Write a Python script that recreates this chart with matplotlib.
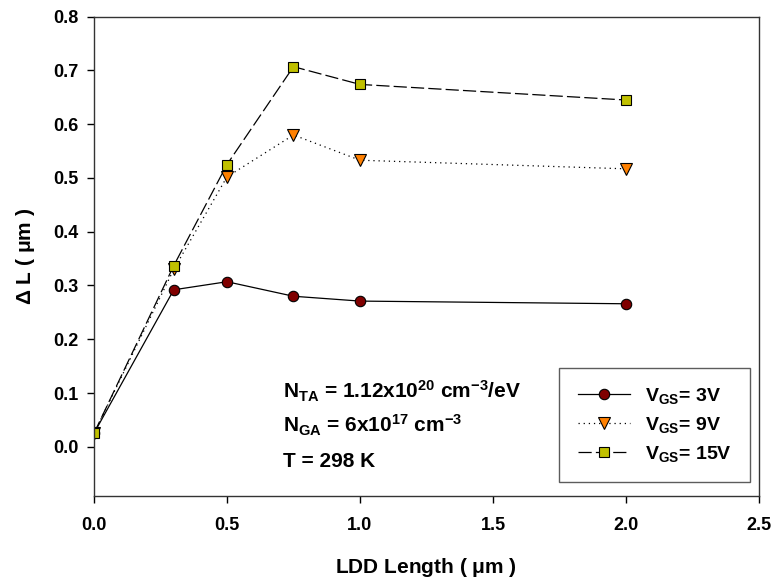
import matplotlib
matplotlib.use("Agg")
import matplotlib.pyplot as plt

plt.rcParams["font.family"] = ["Liberation Sans", "DejaVu Sans"]
plt.rcParams["font.weight"] = "bold"
plt.rcParams["mathtext.fontset"] = "custom"
plt.rcParams["mathtext.rm"] = "Liberation Sans:bold"
plt.rcParams["mathtext.it"] = "Liberation Sans:bold"
plt.rcParams["mathtext.bf"] = "Liberation Sans:bold"
plt.rcParams["lines.scale_dashes"] = False

# LDD length (um)
ldd = [0.0, 0.3, 0.5, 0.75, 1.0, 2.0]

# Delta L (um) for each gate voltage
dl_3v = [0.025, 0.292, 0.307, 0.280, 0.271, 0.266]
dl_9v = [0.025, 0.330, 0.502, 0.580, 0.533, 0.517]
dl_15v = [0.025, 0.337, 0.525, 0.707, 0.674, 0.645]

labels = [r"V$_{GS}$= 3V", r"V$_{GS}$= 9V", r"V$_{GS}$= 15V"]

x_ticks = [0.0, 0.5, 1.0, 1.5, 2.0, 2.5]
y_ticks = [0.0, 0.1, 0.2, 0.3, 0.4, 0.5, 0.6, 0.7, 0.8]

notes = [r"N$_{TA}$ = 1.12x10$^{20}$ cm$^{-3}$/eV",
         r"N$_{GA}$ = 6x10$^{17}$ cm$^{-3}$",
         "T = 298 K"]

fig = plt.figure(figsize=(7.74, 5.81), dpi=100)
ax = fig.add_axes([0.1214, 0.1468, 0.8592, 0.8245])

ax.plot(ldd, dl_3v, color="black", lw=0.9, marker="o", ms=7.5,
        mfc="#800000", mec="black", mew=0.8, label=labels[0])
ax.plot(ldd, dl_9v, color="black", lw=0.9, dashes=(0.9, 2.8), marker="v", ms=9,
        mfc="#FF8000", mec="black", mew=0.8, label=labels[1])
ax.plot(ldd, dl_15v, color="black", lw=0.9, dashes=(9.5, 3), marker="s", ms=7,
        mfc="#C0C000", mec="black", mew=0.8, label=labels[2])

ax.set_xlim(0.0, 2.5)
ax.set_ylim(-0.091, 0.8)
ax.set_xticks(x_ticks)
ax.set_xticklabels([f"{v:.1f}" for v in x_ticks])
ax.set_yticks(y_ticks)
ax.set_yticklabels([f"{v:.1f}" for v in y_ticks])
ax.tick_params(direction="out", length=5, width=1, labelsize=13, pad=6)
ax.tick_params(axis="x", pad=10)
for sp in ax.spines.values():
    sp.set_linewidth(1.0)
    sp.set_color("#333333")

ax.set_xlabel(r"LDD Length ( $\mu$m )", fontsize=15, fontweight="bold", labelpad=16)
ax.set_ylabel(r"$\Delta$ L ( $\mu$m )", fontsize=15, fontweight="bold", labelpad=12)

# annotation lines, baselines placed in data coordinates
note_y = [0.090, 0.026, -0.037]
for txt, yy in zip(notes, note_y):
    ax.text(0.71, yy, txt, fontsize=15, fontweight="bold",
            va="baseline", ha="left")

leg = ax.legend(loc="lower right", bbox_to_anchor=(0.9865, 0.0285), fontsize=14,
                frameon=True, fancybox=False, edgecolor="#333333",
                handlelength=2.7, handletextpad=0.75, borderpad=0.95,
                labelspacing=0.45, borderaxespad=0)
leg.get_frame().set_linewidth(1.0)

fig.savefig("out.png", dpi=100)
